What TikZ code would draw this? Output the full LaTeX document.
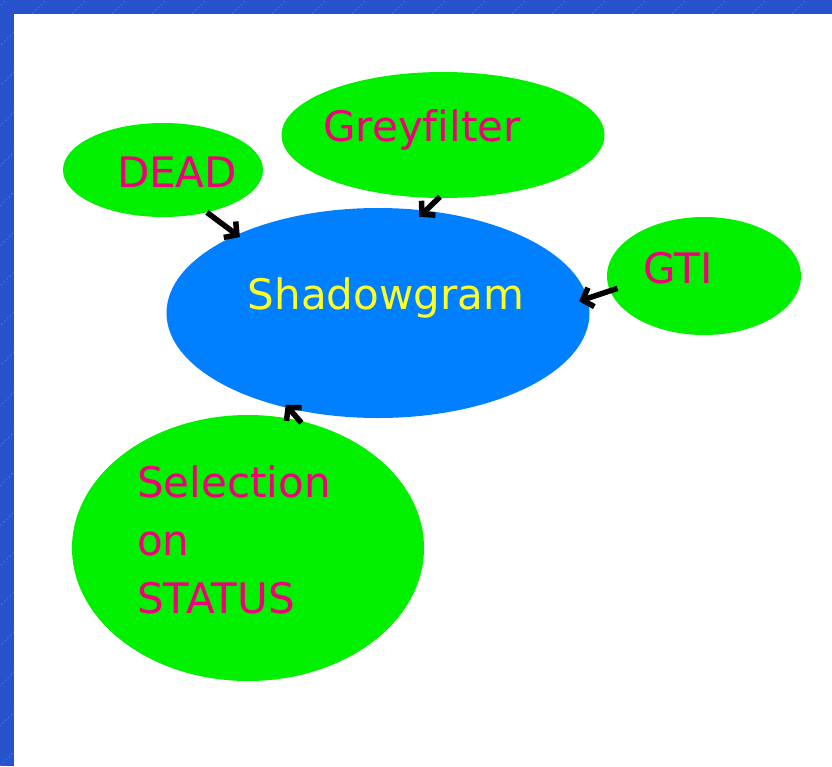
\documentclass[tikz,border=0pt]{standalone}
\usepackage{fontspec}
\setmainfont[Ligatures=NoCommon]{DejaVu Sans}
\usetikzlibrary{shapes.geometric,arrows.meta}
\definecolor{frameblue}{RGB}{38,82,204}
\definecolor{bubgreen}{RGB}{0,240,0}
\definecolor{shadblue}{RGB}{0,128,255}
\definecolor{txtpink}{RGB}{240,0,120}
\definecolor{txtyellow}{RGB}{255,255,40}
\tikzset{
  bubble/.style={ellipse, fill=bubgreen, draw=none, inner sep=0pt},
  pinktext/.style={text=txtpink, font=\fontsize{42}{58}\selectfont, inner sep=0pt},
  arr/.style={line width=5.5pt, black, -{Straight Barb[length=9pt,width=20pt]}}
}
\begin{document}
\begin{tikzpicture}[x=1pt,y=-1pt]
\useasboundingbox (0,0) rectangle (832,766);
\fill[frameblue] (0,0) rectangle (832,766);
\begin{scope}
\clip (0,0) rectangle (832,766);
\foreach \i in {-800,-760,...,900} {
  \draw[white, opacity=0.25, line width=0.6pt, dash pattern=on 2pt off 2pt] (\i,766) -- (\i+766,0);
}
\end{scope}
\fill[white] (14,14) rectangle (832,766);

\node[bubble, minimum width=200pt, minimum height=94pt] (dead) at (163,170) {};
\node[bubble, minimum width=323pt, minimum height=126pt] (grey) at (443,135) {};
\node[bubble, minimum width=194pt, minimum height=118pt] (gti) at (704,276) {};
\node[ellipse, fill=shadblue, inner sep=0pt, minimum width=423pt, minimum height=210pt] (shadow) at (378,313) {};
\node[bubble, minimum width=352pt, minimum height=266pt] (sel) at (248,548) {};

\node[pinktext] (deadt) at (177,172) {DEAD};
\node[pinktext] (greyt) at (422,130) {Greyfilter};
\node[pinktext] (gtit) at (678,268) {GTI};
\node[pinktext, text=txtyellow] (shadowt) at (386,298) {Shadowgram};
\node[pinktext, anchor=north west, align=left] (selt) at (137,465) {Selection\\on\\STATUS};

\draw[arr, shorten >=-4pt] (dead.-44) -- (shadow.151);
\draw[arr, shorten >=-9pt, shorten <=-2pt] (grey.-94) -- (shadow.65);
\draw[arr, shorten >=-9pt, shorten <=-8pt] (gti.189) -- (shadow.4);
\draw[arr, shorten >=-5pt, shorten <=-3pt] (sel.68) -- (shadow.227);
\end{tikzpicture}
\end{document}
